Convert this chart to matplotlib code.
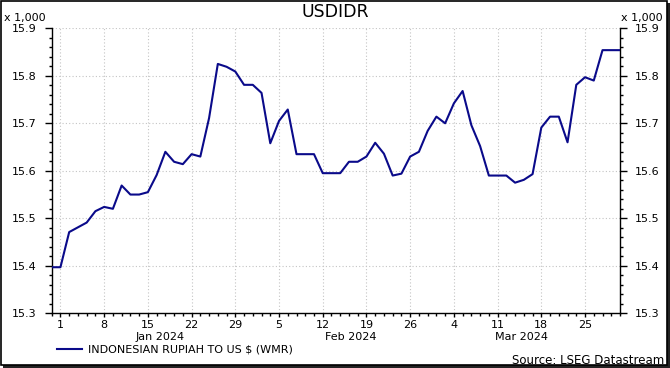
import matplotlib
matplotlib.use("Agg")
import matplotlib.pyplot as plt
from matplotlib.patches import Rectangle
from matplotlib.lines import Line2D
import matplotlib.transforms as mtransforms

# business-day series, 29 Dec 2023 .. 29 Mar 2024 (values x 1,000)
valores = [
    15.397, 15.397, 15.471, 15.481, 15.491, 15.515, 15.524, 15.520, 15.569, 15.550,
    15.550, 15.555, 15.591, 15.640, 15.619, 15.614, 15.635, 15.630, 15.711, 15.825,
    15.819, 15.809, 15.781, 15.781, 15.764, 15.658, 15.705, 15.729, 15.635, 15.635,
    15.635, 15.595, 15.595, 15.595, 15.619, 15.619, 15.630, 15.659, 15.636, 15.590,
    15.594, 15.630, 15.640, 15.684, 15.714, 15.700, 15.742, 15.768, 15.696, 15.652,
    15.590, 15.590, 15.590, 15.575, 15.581, 15.593, 15.691, 15.714, 15.714, 15.660,
    15.781, 15.797, 15.790, 15.854, 15.854, 15.854,
]
# Mondays (index in business days) and their day-of-month labels
segundas = [1, 6, 11, 16, 21, 26, 31, 36, 41, 46, 51, 56, 61]
rotulos_dia = ["1", "8", "15", "22", "29", "5", "12", "19", "26", "4", "11", "18", "25"]
meses = ["Jan 2024", "Feb 2024", "Mar 2024"]
pos_meses = [12.4, 34.2, 53.7]
yticks = [15.3, 15.4, 15.5, 15.6, 15.7, 15.8, 15.9]

W, H = 670, 368
fonte = "DejaVu Sans"
azul = "#0a0a8a"
tam = 8

fig = plt.figure(figsize=(W / 100, H / 100), dpi=100)
ax = fig.add_axes([51.7 / W, (H - 313.3) / H, (620 - 51.7) / W, (313.3 - 28.3) / H])

x = list(range(len(valores)))
ax.plot(x, valores, color=azul, lw=1.5, zorder=3, solid_joinstyle="round")

ax.set_xlim(0, 65)
ax.set_ylim(15.3, 15.9)
ax.set_xticks(segundas)
ax.set_xticklabels(rotulos_dia)
ax.set_xticks(x, minor=True)
ax.set_yticks(yticks)
ax.set_yticklabels([f"{v:.1f}" for v in yticks])
ax.set_yticks([15.3 + 0.02 * i for i in range(31)], minor=True)

ax.tick_params(axis="both", which="major", direction="out", length=5, width=1,
               labelsize=tam, pad=6)
ax.tick_params(axis="both", which="minor", direction="out", length=2.5, width=1)
ax.tick_params(axis="y", which="both", left=True, right=True, labelleft=True, labelright=True)
ax.tick_params(axis="x", which="major", length=3, pad=2)
for lab in ax.get_xticklabels() + ax.get_yticklabels() + ax.yaxis.get_ticklabels(which="major"):
    lab.set_fontfamily(fonte)

ax.grid(True, which="major", color="#c4c4c4", linestyle=(0, (1, 2)), lw=0.8)
ax.spines["top"].set_visible(False)
for s in ["left", "right", "bottom"]:
    ax.spines[s].set_linewidth(1)

# month labels under the day labels
trans = mtransforms.blended_transform_factory(ax.transData, fig.transFigure)
for m, p in zip(meses, pos_meses):
    ax.text(p, 1 - 337 / H, m, transform=trans, ha="center", va="center",
            fontsize=tam, family=fonte)

fig.text(335 / W, 1 - 12 / H, "USDIDR", ha="center", va="center", fontsize=12.5, family=fonte)
fig.text(4 / W, 1 - 18 / H, "x 1,000", ha="left", va="center", fontsize=tam, family=fonte)
fig.text(621 / W, 1 - 18 / H, "x 1,000", ha="left", va="center", fontsize=tam, family=fonte)

# legend
fig.add_artist(Line2D([57 / W, 82 / W], [1 - 349 / H, 1 - 349 / H], color=azul, lw=1.5))
fig.text(88 / W, 1 - 349 / H, "INDONESIAN RUPIAH TO US $ (WMR)", ha="left", va="center",
         fontsize=tam, family=fonte)
fig.text(664 / W, 1 - 360 / H, "Source: LSEG Datastream", ha="right", va="center",
         fontsize=8.5, family=fonte)

# frame with drop shadow
fig.add_artist(Rectangle((3 / W, 0), 667 / W, 3 / H, transform=fig.transFigure,
                         facecolor="#222222", edgecolor="none"))
fig.add_artist(Rectangle((667 / W, 0), 3 / W, 365 / H, transform=fig.transFigure,
                         facecolor="#222222", edgecolor="none"))
fig.add_artist(Rectangle((0.75 / W, 3 / H), 666 / W, 364 / H, transform=fig.transFigure,
                         facecolor="none", edgecolor="black", lw=1.2))

fig.savefig("out.png", dpi=100)
